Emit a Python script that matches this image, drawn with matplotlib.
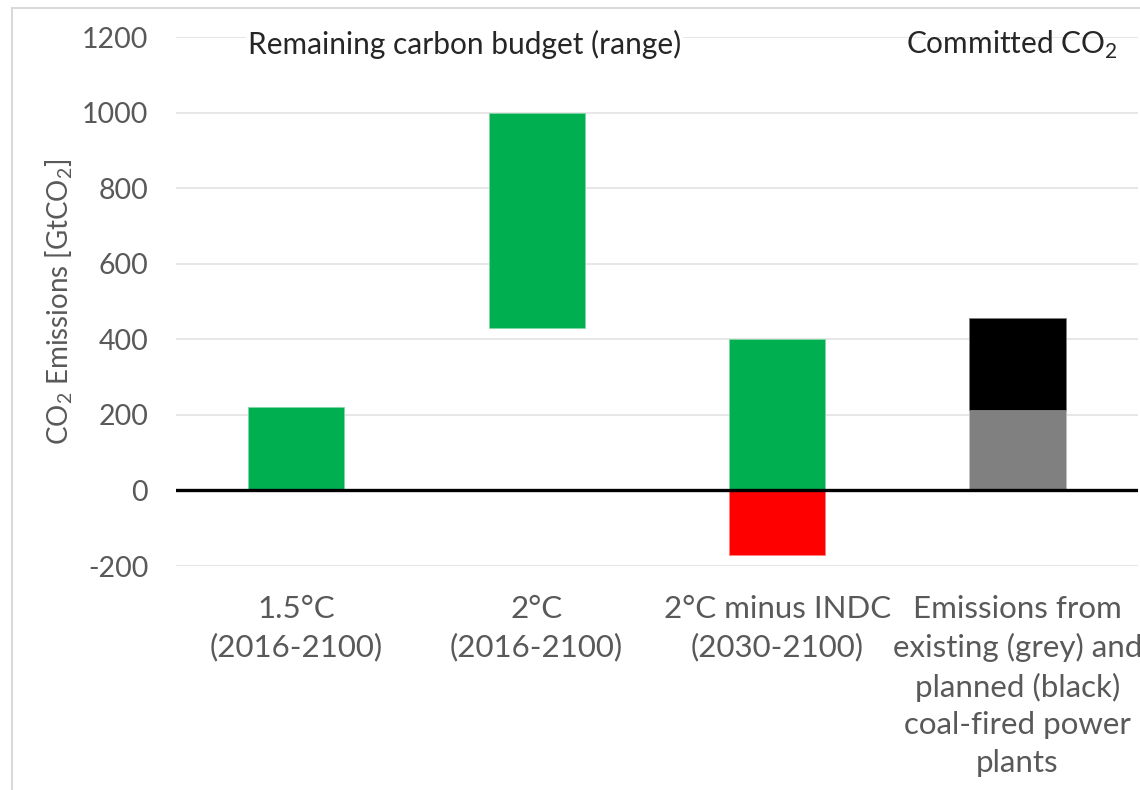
import matplotlib
matplotlib.use("Agg")
import matplotlib.pyplot as plt
from matplotlib.lines import Line2D

# Category labels along the x axis
categories = [
    "1.5°C\n(2016-2100)",
    "2°C\n(2016-2100)",
    "2°C minus INDC\n(2030-2100)",
    "Emissions from\nexisting (grey) and\nplanned (black)\ncoal-fired power\nplants",
]

# Remaining carbon budget ranges (GtCO2): bottom and top of each green bar
budget_low = [0, 430, 0]
budget_high = [220, 1000, 400]

# INDC overshoot below zero for the "2°C minus INDC" case
indc_negative = -170

# Committed emissions from coal-fired power plants (GtCO2)
coal_existing = 213
coal_planned = 244  # stacked on top of existing

yticks = [-200, 0, 200, 400, 600, 800, 1000, 1200]

GREEN = "#00B050"
RED = "#FF0000"
GREY = "#808080"
TEXT = "#595959"

plt.rcParams["font.family"] = ["Lato", "DejaVu Sans"]
plt.rcParams["mathtext.fontset"] = "custom"
plt.rcParams["mathtext.rm"] = "Lato"

fig = plt.figure(figsize=(11.4, 7.9), dpi=100)
ax = fig.add_axes([0.1544, 0.2835, 0.8436, 0.6695])

x = list(range(len(categories)))
width = 0.4

# Green budget ranges
heights = [h - l for l, h in zip(budget_low, budget_high)]
ax.bar(x[:3], heights, bottom=budget_low, width=width, color=GREEN,
       edgecolor="#7fd8a7", linewidth=0.6, zorder=3)
# Negative INDC part
ax.bar(x[2], indc_negative, width=width, color=RED,
       edgecolor="#ff8080", linewidth=0.6, zorder=3)
# Coal stacks
ax.bar(x[3], coal_existing, width=width, color=GREY,
       edgecolor="#bfbfbf", linewidth=0.6, zorder=3)
ax.bar(x[3], coal_planned, bottom=coal_existing, width=width, color="black",
       edgecolor="#7f7f7f", linewidth=0.6, zorder=3)

# Zero line
ax.axhline(0, color="black", linewidth=2.4, zorder=4)

ax.set_xlim(-0.5, 3.5)
ax.set_ylim(-200, 1200)
ax.set_yticks(yticks)
ax.set_yticklabels([str(v) for v in yticks])
ax.yaxis.grid(True, color="#e3e3e3", linewidth=1.2, zorder=0)
ax.set_axisbelow(True)
for s in ax.spines.values():
    s.set_visible(False)
ax.tick_params(axis="y", length=0, pad=20, labelsize=20.5, labelcolor=TEXT)
ax.tick_params(axis="x", length=0, pad=21, labelsize=22.5, labelcolor=TEXT)
ax.set_xticks(x)
ax.set_xticklabels(categories, linespacing=1.42, va="top")

ax.set_ylabel(r"CO$_2$ Emissions [GtCO$_2$]", fontsize=20, color=TEXT)
ax.yaxis.set_label_coords(-0.105, 0.5)

ax.text(0.70, 1180, "Remaining carbon budget (range)", fontsize=21.5,
        color="#262626", ha="center", va="center", zorder=5,
        bbox=dict(facecolor="white", edgecolor="none", pad=1))
ax.text(2.976, 1180, r"Committed CO$_2$", fontsize=21.5, color="#262626",
        ha="center", va="center", zorder=5)

# Outer chart frame (left and top edges)
fig.add_artist(Line2D([12 / 1140, 12 / 1140], [0, 1 - 8 / 790],
                      transform=fig.transFigure, color="#d9d9d9", linewidth=1.5))
fig.add_artist(Line2D([12 / 1140, 1], [1 - 8 / 790, 1 - 8 / 790],
                      transform=fig.transFigure, color="#d9d9d9", linewidth=1.5))

fig.savefig("out.png", dpi=100, facecolor="white")
